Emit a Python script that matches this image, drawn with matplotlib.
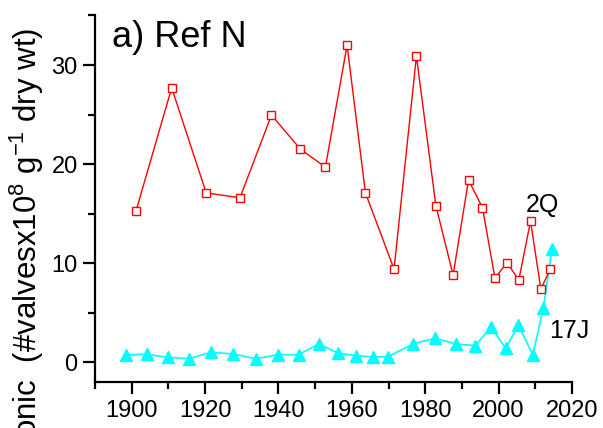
import matplotlib
matplotlib.use("Agg")
import matplotlib.pyplot as plt
from matplotlib.ticker import MultipleLocator

plt.rcParams['font.family'] = ['Liberation Sans', 'DejaVu Sans']
plt.rcParams['mathtext.fontset'] = 'custom'
plt.rcParams['mathtext.rm'] = 'Liberation Sans'
plt.rcParams['mathtext.it'] = 'Liberation Sans:italic'
plt.rcParams['mathtext.bf'] = 'Liberation Sans:bold'

# Core 2Q (red open squares)
years_2q = [1901.2, 1910.9, 1920.3, 1929.5, 1938.1, 1946.0, 1952.8, 1958.7, 1963.7,
            1971.5, 1977.6, 1982.9, 1987.6, 1991.8, 1995.6, 1999.0, 2002.3, 2005.5,
            2008.7, 2011.5, 2014.1]
vals_2q = [15.3, 27.7, 17.1, 16.6, 24.95, 21.5, 19.7, 32.0, 17.1,
           9.4, 30.9, 15.8, 8.8, 18.4, 15.6, 8.5, 10.05, 8.3,
           14.25, 7.4, 9.4]

# Core 17J (cyan filled triangles)
years_17j = [1898.4, 1904.1, 1909.8, 1915.6, 1921.6, 1927.7, 1933.8, 1939.8, 1945.5,
             1951.0, 1956.3, 1961.2, 1965.7, 1969.9, 1976.8, 1982.7, 1988.4, 1993.7,
             1997.9, 2001.9, 2005.4, 2009.3, 2012.2, 2014.5]
vals_17j = [0.74, 0.81, 0.50, 0.36, 1.01, 0.84, 0.35, 0.77, 0.77,
            1.85, 0.91, 0.67, 0.53, 0.57, 1.88, 2.42, 1.85, 1.68,
            3.56, 1.41, 3.76, 0.74, 5.45, 11.4]

xticks = [1900, 1920, 1940, 1960, 1980, 2000, 2020]
yticks = [0, 10, 20, 30]

fig = plt.figure(figsize=(6.03, 4.28), dpi=100)
ax = fig.add_axes([95/603, (428-382.3)/428, (572-95)/603, (382.3-15)/428])

ax.plot(years_2q, vals_2q, color='#ff0000', lw=1.0, marker='s', ms=6,
        mfc='white', mec='#ff0000', mew=1.0, zorder=3)
ax.plot(years_17j, vals_17j, color='#00ffff', lw=1.2, marker='^', ms=9,
        mfc='#00ffff', mec='#00ffff', zorder=2)

ax.set_xlim(1890, 2020)
ax.set_ylim(-2.02, 35.05)
ax.set_xticks(xticks)
ax.set_yticks(yticks)
ax.xaxis.set_minor_locator(MultipleLocator(10))
ax.yaxis.set_minor_locator(MultipleLocator(5))

for s in ['top', 'right']:
    ax.spines[s].set_visible(False)
for s in ['left', 'bottom']:
    ax.spines[s].set_linewidth(1.6)

ax.tick_params(which='major', direction='out', length=8.5, width=1.6,
               labelsize=17, pad=4)
ax.tick_params(which='minor', direction='out', length=4.8, width=1.6)

ax.text(1894.5, 31.85, 'a) Ref N', fontsize=26, va='baseline', ha='left')
ax.text(2007.3, 15.2, '2Q', fontsize=18, va='baseline', ha='left')
ax.text(2013.9, 2.42, '17J', fontsize=18, va='baseline', ha='left')

fig.text(27/603, 1 - 28/428, 'onic  (#valvesx10$^8$ g$^{-1}$ dry wt)',
         rotation=90, fontsize=22.5, ha='center', va='top')

fig.savefig('out.png', dpi=100)
